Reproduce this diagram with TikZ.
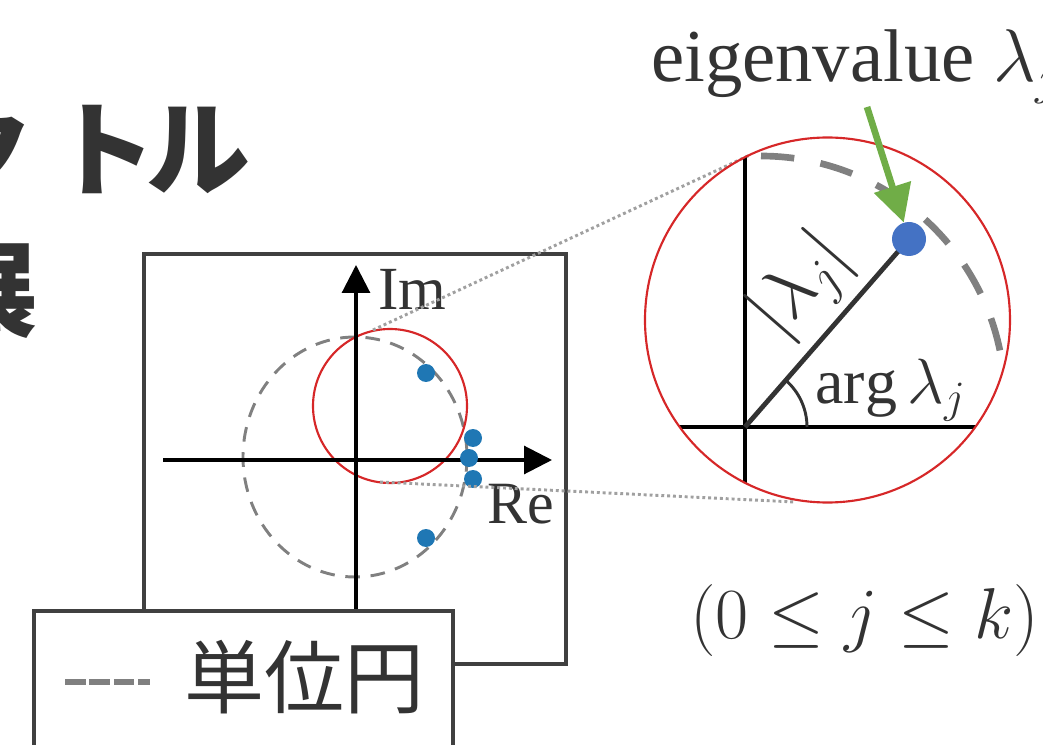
\RequirePackage{fix-cm}
\documentclass[tikz,border=0pt]{standalone}
\usepackage{fontspec}
\setmainfont{Liberation Serif}
\newfontfamily\jp{Noto Sans CJK JP}
\usetikzlibrary{arrows.meta}
\definecolor{txt}{RGB}{51,51,51}
\definecolor{frame}{RGB}{64,64,64}
\definecolor{dgray}{RGB}{128,128,128}
\definecolor{lgray}{RGB}{160,160,160}
\definecolor{red1}{RGB}{214,39,40}
\definecolor{blue1}{RGB}{31,119,180}
\definecolor{blue2}{RGB}{68,114,196}
\definecolor{green1}{RGB}{112,173,71}
\tikzset{
  framebox/.style={draw=frame, line width=2.4pt},
  axisarrow/.style={draw=black, line width=2.3pt, -{Triangle[length=21pt,width=21pt]}},
  unitc/.style={draw=dgray, line width=2.2pt, dash pattern=on 11pt off 8pt},
  zoomc/.style={draw=red1, line width=1.6pt},
  dotline/.style={draw=lgray, line width=2.2pt, dash pattern=on 2.2pt off 2.2pt},
  eig/.style={circle, fill=blue1, inner sep=0pt, minimum size=13.5pt},
  lbl/.style={text=txt, inner sep=0pt},
  titlech/.style={text=txt, inner sep=0pt, font={\jp\bfseries\fontsize{78}{88}\selectfont}},
}
\begin{document}
\begin{tikzpicture}[x=0.75pt,y=-0.75pt]
\useasboundingbox (0,0) rectangle (1043,745);
% title fragments
\node[titlech] (t1a) at (-18,150) {ク};
\node[titlech] (t1b) at (104,150) {ト};
\node[titlech] (t1c) at (198,150) {ル};
\node[titlech, anchor=east] (t2) at (39,291) {展};
% left plot
\draw[framebox] (144,254) rectangle (566,664);
\coordinate (o) at (356,460);
\draw[unitc] (355,457) ellipse[x radius=112, y radius=120];
\coordinate (sc) at (390,406);
\draw[zoomc] (sc) circle[radius=77];
\coordinate (xl) at (163,460);
\coordinate (xr) at (552,460);
\coordinate (yb) at (356,620);
\coordinate (yt) at (356,265);
\draw[axisarrow] (xl) -- (xr);
\draw[axisarrow] (yb) -- (yt);
\node[eig] (e1) at (426,373) {};
\node[eig] (e2) at (473,438) {};
\node[eig] (e3) at (469,458) {};
\node[eig] (e4) at (473,479) {};
\node[eig] (e5) at (426,538) {};
\node[lbl, anchor=base west, font=\fontsize{46}{50}\selectfont] (im) at (378,310) {Im};
\node[lbl, anchor=base west, font=\fontsize{45}{50}\selectfont] (re) at (487,523) {Re};
% zoom lines
\coordinate (zt) at (373,330);
\coordinate (Zt) at (750,155);
\coordinate (zb) at (380,482);
\coordinate (Zb) at (795,502);
\draw[dotline] (zt) -- (Zt);
\draw[dotline] (zb) -- (Zb);
% legend
\draw[framebox, fill=white] (34,611) rectangle (453,760);
\coordinate (la) at (65,682);
\coordinate (lb) at (150,682);
\draw[draw=dgray, line width=5pt, dash pattern=on 15.5pt off 2.8pt] (la) -- (lb);
\node[lbl, anchor=west, font={\jp\fontsize{60}{70}\selectfont}] (lg) at (184,677) {単位円};
% zoomed view
\coordinate (C) at (827.5,320);
\coordinate (O) at (745,427);
\begin{scope}
\clip (C) circle[radius=182.5];
\draw[line width=3.2pt] (745,100) -- (745,560);
\draw[line width=3.2pt] (600,427) -- (1043,427);
\draw[draw=dgray, line width=5pt, dash pattern=on 25pt off 20pt] (761,156) arc[start angle=-90, end angle=15, radius=244];
\end{scope}
\draw[zoomc] (C) circle[radius=182.5];
\coordinate (lamc) at (909,239);
\draw[draw=txt, line width=3.6pt] (O) -- (lamc);
\draw[draw=txt, line width=2.2pt] (O) ++(62,0) arc[start angle=0, end angle=-49, radius=62];
\node[circle, fill=blue2, inner sep=0pt, minimum size=25.5pt] (lam) at (lamc) {};
\coordinate (gs) at (867,107);
\draw[draw=green1, line width=5pt, -{Triangle[length=28pt,width=28pt]}] (gs) -- (lam);
\node[lbl, rotate=49, font=\fontsize{56}{60}\selectfont] (abs) at (802,287) {$|\lambda_j|$};
\node[lbl, anchor=base west, font=\fontsize{48}{52}\selectfont] (arg) at (815,403) {$\arg\lambda_j$};
\node[lbl, anchor=base west, font=\fontsize{56}{60}\selectfont] (ev) at (651,82) {eigenvalue $\lambda_j$};
\node[lbl, anchor=base west, font=\fontsize{54}{58}\selectfont] (rng) at (690,638) {$(0\le j\le k)$};
\end{tikzpicture}
\end{document}
